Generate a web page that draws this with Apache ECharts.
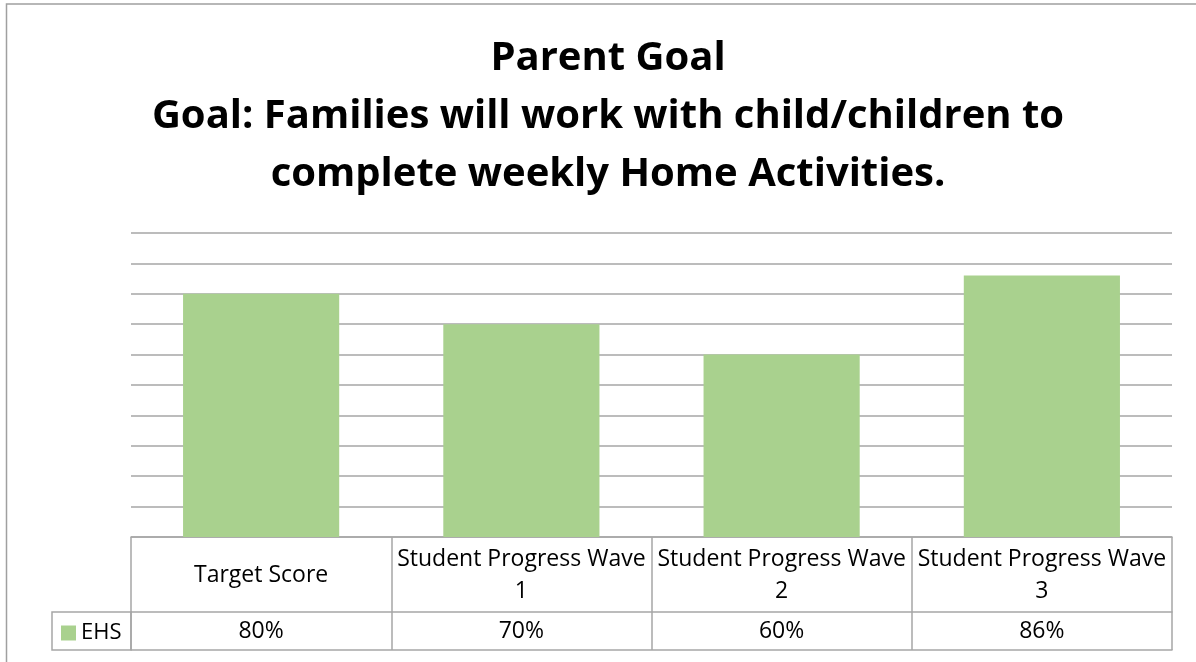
<!DOCTYPE html>
<html>
<head>
<meta charset="utf-8">
<script src="https://cdn.jsdelivr.net/npm/echarts@6/dist/echarts.min.js"></script>
<style>
  html, body { margin: 0; padding: 0; background: #fff; }
  #chart { width: 1196px; height: 662px; }
</style>
</head>
<body>
<div id="chart"></div>
<script>
// 数据
const titleLines = ['Parent Goal', 'Goal: Families will work with child/children to', 'complete weekly Home Activities.'];
const categories = ['Target Score', 'Student Progress Wave 1', 'Student Progress Wave 2', 'Student Progress Wave 3'];
const seriesName = 'EHS';
const ehsValues = [0.80, 0.70, 0.60, 0.86];

const lineGray = '#a6a6a6';
const font = 'Open Sans';

const myChart = echarts.init(document.getElementById('chart'));

// 数据表的一行标签：把最后的数字换到第二行
const wrapCategory = v => v.replace(/ (\d+)$/, '\n$1');
const pct = v => Math.round(v * 100) + '%';

const option = {
	animation: false,
	title: {
		text: titleLines.join('\n'),
		left: 603,
		top: 25,
		textAlign: 'center',
		textStyle: {
			fontFamily: font,
			fontWeight: 'bold',
			fontSize: 40,
			lineHeight: 58,
			color: '#000'
		}
	},
	legend: {
		data: [seriesName],
		left: 56,
		top: 617,
		icon: 'rect',
		itemWidth: 15,
		itemHeight: 15,
		itemGap: 6,
		textStyle: { fontFamily: font, fontSize: 22, color: '#000', padding: [0, 0, 0, 0] }
	},
	grid: {
		left: 131,
		right: 24,
		top: 233,
		bottom: 125,
		containLabel: false,
		outerBoundsMode: 'none'
	},
	xAxis: [{
		type: 'category',
		data: categories,
		position: 'bottom',
		axisLine: { lineStyle: { color: lineGray, width: 1.5 } },
		axisTick: { show: true, interval: 0, length: 113, lineStyle: { color: lineGray, width: 1.5 } },
		axisLabel: {
			interval: 0,
			hideOverlap: false,
			margin: 38,
			verticalAlign: 'middle',
			lineHeight: 32,
			fontFamily: font,
			fontSize: 23,
			color: '#000',
			formatter: wrapCategory
		}
	}, {
		type: 'category',
		data: categories,
		position: 'bottom',
		offset: 75,
		axisLine: { lineStyle: { color: lineGray, width: 1.5 } },
		axisTick: { show: false },
		axisLabel: {
			interval: 0,
			margin: 19,
			verticalAlign: 'middle',
			fontFamily: font,
			fontSize: 23,
			color: '#000',
			formatter: (v, i) => pct(ehsValues[i])
		}
	}, {
		type: 'category',
		data: categories,
		position: 'bottom',
		offset: 113,
		axisLine: { lineStyle: { color: lineGray, width: 1.5 } },
		axisTick: { show: false },
		axisLabel: { show: false }
	}],
	yAxis: {
		type: 'value',
		min: 0,
		max: 1,
		interval: 0.1,
		axisLine: { show: false },
		axisTick: { show: false },
		axisLabel: { show: false },
		splitLine: { lineStyle: { color: lineGray, width: 1.5 } }
	},
	series: [{
		name: seriesName,
		type: 'bar',
		xAxisIndex: 0,
		barWidth: '60%',
		itemStyle: { color: '#a9d18e' },
		data: ehsValues
	}],
	graphic: [{
		// 外框
		type: 'rect',
		shape: { x: 6.5, y: 4, width: 1300, height: 800 },
		style: { fill: 'none', stroke: '#a0a0a0', lineWidth: 1.5 },
		silent: true
	}, {
		// 图例单元格
		type: 'rect',
		shape: { x: 52, y: 612, width: 79, height: 38 },
		style: { fill: 'none', stroke: lineGray, lineWidth: 1.5 },
		silent: true
	}]
};

myChart.setOption(option);
</script>
</body>
</html>
